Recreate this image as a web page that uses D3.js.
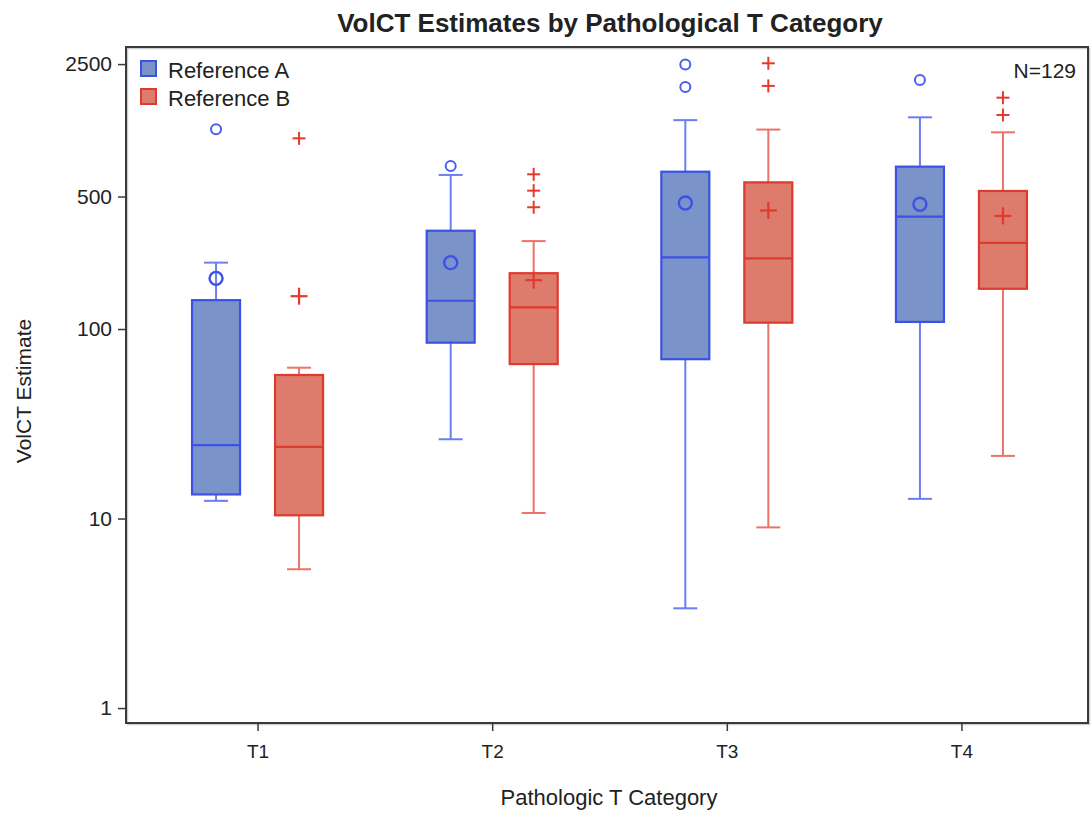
<!DOCTYPE html>
<html><head><meta charset="utf-8">
<script src="https://cdn.jsdelivr.net/npm/d3@7"></script>
<style>body{margin:0;background:#fff} text{font-family:"Liberation Sans",Arial,sans-serif;fill:#222}</style>
</head><body><svg id="c" width="1092" height="817"></svg>
<script>
const categories = ["T1","T2","T3","T4"];
const seriesNames = ["Reference A","Reference B"];
const yTickValues = [1,10,100,500,2500];

const refAMin    = [12.4, 26.2, 3.36, 12.7];
const refAQ1     = [13.4, 84.7, 69.3, 109];
const refAMedian = [24.4, 141, 239, 392];
const refAQ3     = [142, 330, 676, 719];
const refAMax    = [224, 650, 1265, 1309];
const refAMean   = [185, 224, 462, 455];
const refAOutliers = [[1132],[725],[2490,1892],[2061]];

const refBMin    = [5.4, 10.7, 8.98, 21.4];
const refBQ1     = [10.4, 65.3, 108, 163];
const refBMedian = [23.9, 130, 236, 285];
const refBQ3     = [57.2, 197, 594, 535];
const refBMax    = [62.5, 291, 1128, 1091];
const refBMean   = [149, 181, 422, 395];
const refBOutliers = [[1014],[655,537,439],[2524,1917],[1662,1346]];

const colors = {
  "Reference A": {stroke:"#3d52e4", whisker:"#6c7ef0", fill:"#7a93c9", marker:"#4a5ef0"},
  "Reference B": {stroke:"#de3a2d", whisker:"#ea736a", fill:"#dd7b6d", marker:"#e5392c"}
};

function build(name, mn, q1, med, q3, mx, mean, outl){
  return categories.map((c,i)=>({series:name, cat:c, min:mn[i], q1:q1[i], median:med[i], q3:q3[i], max:mx[i], mean:mean[i], outliers:outl[i]}));
}
const rows = build("Reference A", refAMin, refAQ1, refAMedian, refAQ3, refAMax, refAMean, refAOutliers)
  .concat(build("Reference B", refBMin, refBQ1, refBMedian, refBQ3, refBMax, refBMean, refBOutliers));

const L=126, R=1088, T=47, B=723;
const svg = d3.select("#c");
const x = d3.scalePoint().domain(categories).range([L+2.5,R+2.5]).padding(0.55);
const sub = d3.scaleBand().domain(seriesNames).range([-83,83]);
const y = d3.scaleLog().domain([0.834, 3076]).range([B,T]);

const boxW = 48, capW = 24;

// frame
svg.append("rect").attr("x",L+1.5).attr("y",T+1.5).attr("width",R-L).attr("height",B-T)
  .attr("fill","none").attr("stroke","#cfcfcf").attr("stroke-width",1.5);
svg.append("rect").attr("x",L).attr("y",T).attr("width",R-L).attr("height",B-T)
  .attr("fill","none").attr("stroke","#3a3a3a").attr("stroke-width",2);

// axes
const yAxis = d3.axisLeft(y).tickValues(yTickValues).tickFormat(d3.format("d")).tickSize(8).tickPadding(6);
const gy = svg.append("g").attr("transform",`translate(${L},0)`).call(yAxis);
gy.select(".domain").remove();
gy.selectAll("line").attr("stroke","#3a3a3a").attr("stroke-width",1.5);
gy.selectAll("text").style("font-size","21px").attr("fill","#222");

const xAxis = d3.axisBottom(x).tickSize(8).tickPadding(14);
const gx = svg.append("g").attr("transform",`translate(0,${B})`).call(xAxis);
gx.select(".domain").remove();
gx.selectAll("line").attr("stroke","#3a3a3a").attr("stroke-width",1.5);
gx.selectAll("text").style("font-size","19px").attr("fill","#222");

// boxes
const g = svg.append("g").selectAll("g").data(rows).join("g")
  .attr("transform", d=>`translate(${x(d.cat)+sub(d.series)+sub.bandwidth()/2},0)`);

g.append("line").attr("x1",0).attr("x2",0).attr("y1",d=>y(d.q3)).attr("y2",d=>y(d.max))
  .attr("stroke",d=>colors[d.series].whisker).attr("stroke-width",2);
g.append("line").attr("x1",0).attr("x2",0).attr("y1",d=>y(d.q1)).attr("y2",d=>y(d.min))
  .attr("stroke",d=>colors[d.series].whisker).attr("stroke-width",2);
g.append("line").attr("x1",-capW/2).attr("x2",capW/2).attr("y1",d=>y(d.max)).attr("y2",d=>y(d.max))
  .attr("stroke",d=>colors[d.series].whisker).attr("stroke-width",2);
g.append("line").attr("x1",-capW/2).attr("x2",capW/2).attr("y1",d=>y(d.min)).attr("y2",d=>y(d.min))
  .attr("stroke",d=>colors[d.series].whisker).attr("stroke-width",2);
g.append("rect").attr("x",-boxW/2).attr("width",boxW)
  .attr("y",d=>y(d.q3)).attr("height",d=>y(d.q1)-y(d.q3))
  .attr("fill",d=>colors[d.series].fill).attr("stroke",d=>colors[d.series].stroke).attr("stroke-width",2.2);
g.append("line").attr("x1",-boxW/2).attr("x2",boxW/2).attr("y1",d=>y(d.median)).attr("y2",d=>y(d.median))
  .attr("stroke",d=>colors[d.series].stroke).attr("stroke-width",2.2);

// mean + outlier markers
g.each(function(d){
  const s = d3.select(this), c = colors[d.series];
  if(d.series==="Reference A"){
    s.append("circle").attr("cx",0).attr("cy",y(d.mean)).attr("r",6.5)
      .attr("fill","none").attr("stroke",c.stroke).attr("stroke-width",2.4);
    s.selectAll(".o").data(d.outliers).join("circle").attr("class","o")
      .attr("cx",0).attr("cy",v=>y(v)).attr("r",5).attr("fill","none").attr("stroke",c.marker).attr("stroke-width",2);
  } else {
    const plus=(sel,v,h,w)=>{
      sel.append("line").attr("x1",-h).attr("x2",h).attr("y1",y(v)).attr("y2",y(v)).attr("stroke",c.marker).attr("stroke-width",w);
      sel.append("line").attr("x1",0).attr("x2",0).attr("y1",y(v)-h).attr("y2",y(v)+h).attr("stroke",c.marker).attr("stroke-width",w);
    };
    plus(s,d.mean,8.5,2.2);
    d.outliers.forEach(v=>plus(s,v,6.5,2));
  }
});

// legend
seriesNames.forEach((n,i)=>{
  svg.append("rect").attr("x",141).attr("y",61+i*28).attr("width",15).attr("height",15)
    .attr("fill",colors[n].fill).attr("stroke",colors[n].stroke).attr("stroke-width",2);
  svg.append("text").attr("x",168).attr("y",78+i*28).style("font-size","22px").text(n);
});
svg.append("text").attr("x",1076).attr("y",78).attr("text-anchor","end").style("font-size","21px").text("N=129");

// titles
svg.append("text").attr("x",(L+R)/2+3).attr("y",32).attr("text-anchor","middle")
  .style("font-size","26px").style("font-weight","bold").attr("fill","#111")
  .text("VolCT Estimates by Pathological T Category");
svg.append("text").attr("x",(L+R)/2+2).attr("y",805).attr("text-anchor","middle")
  .style("font-size","22px").text("Pathologic T Category");
svg.append("text").attr("transform",`translate(31,${(T+B)/2+6}) rotate(-90)`).attr("text-anchor","middle")
  .style("font-size","21px").text("VolCT Estimate");
</script></body></html>
